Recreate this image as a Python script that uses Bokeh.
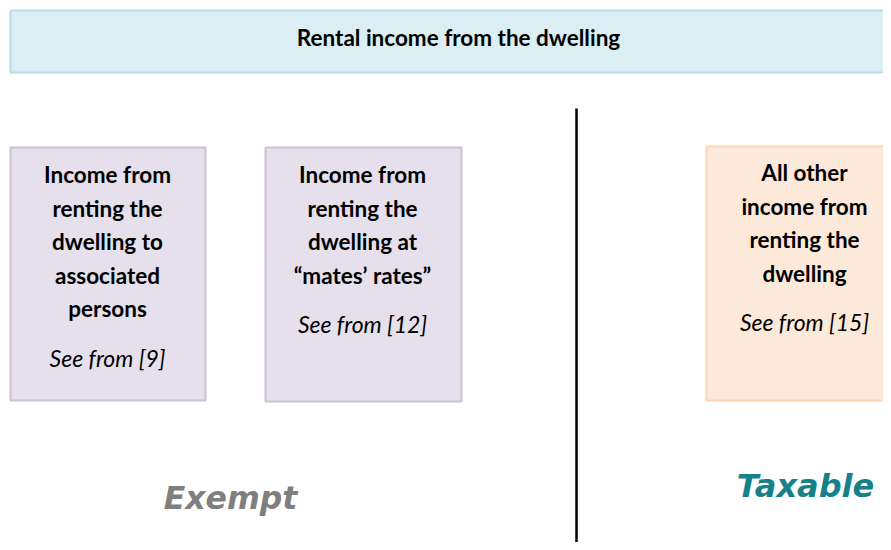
from bokeh.plotting import figure
from bokeh.models import Range1d, ColumnDataSource
from bokeh.core.properties import value
from bokeh.embed import file_html
from bokeh.resources import INLINE

# ---- content ----
header_text = "Rental income from the dwelling"
box_titles = [
    ["Income from", "renting the", "dwelling to", "associated", "persons"],
    ["Income from", "renting the", "dwelling at", "\u201cmates\u2019 rates\u201d"],
    ["All other", "income from", "renting the", "dwelling"],
]
box_refs = ["See from [9]", "See from [12]", "See from [15]"]
box_groups = ["Exempt", "Exempt", "Taxable"]
group_labels = ["Exempt", "Taxable"]

# ---- layout ----
W, H = 883, 542
box_left = [10, 265, 706]
box_right = [205, 461, 905]
box_top = [147, 147, 146]
box_bottom = [400, 401, 400]
box_center = [107, 362, 804]
box_fill = {"Exempt": "#E5E0EC", "Taxable": "#FDE9D9"}
box_line = {"Exempt": "#CCC1DA", "Taxable": "#FBD5B5"}
first_line_y = [174, 174, 172]
line_step = 33.6
ref_gap = 49

p = figure(width=W, height=H, output_backend="svg", toolbar_location=None,
           x_range=Range1d(0, W), y_range=Range1d(H, 0),
           min_border=0, min_border_left=0, min_border_right=0,
           min_border_top=0, min_border_bottom=0)
p.axis.visible = False
p.grid.visible = False
p.outline_line_color = None
p.background_fill_color = "white"
p.border_fill_color = "white"

# header box
p.quad(left=[10], right=[910], top=[10], bottom=[72],
       fill_color="#DAEEF3", line_color="#B7DDE8", line_width=2)
p.text(x=[458], y=[37], text=[header_text],
       text_font=value("Lato"), text_font_style="bold", text_font_size="22.5px",
       text_align="center", text_baseline="middle", text_color="black")

# divider
p.segment(x0=[576], y0=[108], x1=[576], y1=[560],
          line_color="black", line_width=2.5)

# boxes
for i in range(3):
    g = box_groups[i]
    p.quad(left=[box_left[i]], right=[box_right[i]],
           top=[box_top[i]], bottom=[box_bottom[i]],
           fill_color=box_fill[g], line_color=box_line[g], line_width=2)
    cx = box_center[i]
    lines = box_titles[i]
    ys = [first_line_y[i] + k * line_step for k in range(len(lines))]
    src = ColumnDataSource(dict(x=[cx] * len(lines), y=ys, t=lines))
    p.text(x="x", y="y", text="t", source=src,
           text_font=value("Lato"), text_font_style="bold", text_font_size="22.5px",
           text_align="center", text_baseline="middle", text_color="black")
    ry = ys[-1] + ref_gap
    p.text(x=[cx], y=[ry], text=[box_refs[i]],
           text_font=value("Lato"), text_font_style="italic", text_font_size="23px",
           text_align="center", text_baseline="middle", text_color="black")

# group labels
p.text(x=[230], y=[497], text=[group_labels[0]],
       text_font=value("DejaVu Sans"), text_font_style="bold italic", text_font_size="31.5px",
       text_align="center", text_baseline="middle", text_color="#7F7F7F")
p.text(x=[805], y=[485], text=[group_labels[1]],
       text_font=value("DejaVu Sans"), text_font_style="bold italic", text_font_size="32px",
       text_align="center", text_baseline="middle", text_color="#168189")

open("out.html", "w").write(file_html(p, INLINE))
